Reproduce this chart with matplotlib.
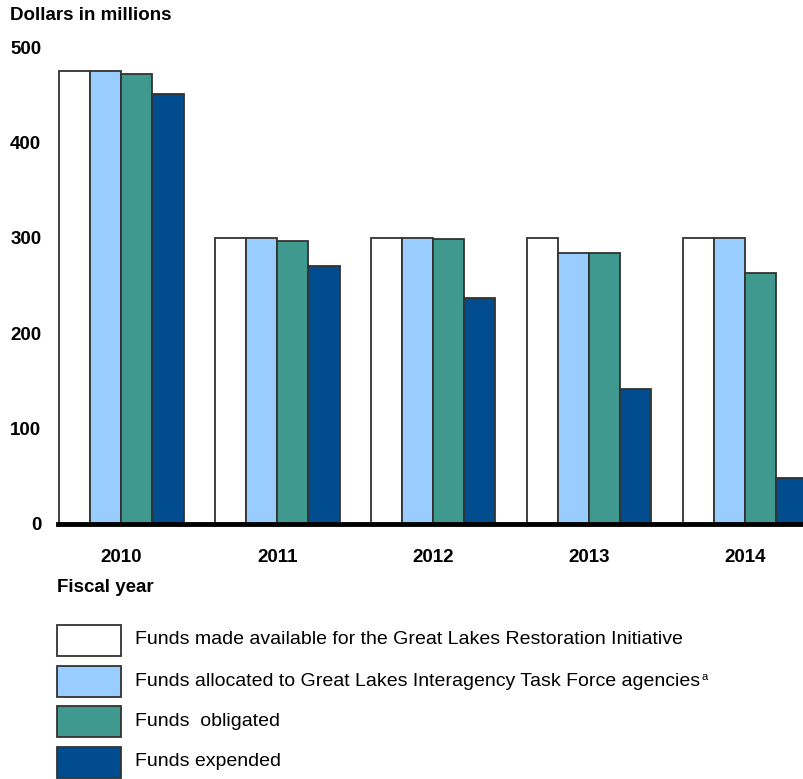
import matplotlib.pyplot as plt
from matplotlib.patches import Rectangle
import numpy as np

plt.rcParams['font.family'] = ['Liberation Sans', 'DejaVu Sans']

years = ['2010', '2011', '2012', '2013', '2014']
available = [475, 300, 300, 300, 300]
allocated = [475, 300, 300, 284, 300]
obligated = [472, 297, 299, 284, 263]
expended = [451, 270, 237, 142, 48]

series = [available, allocated, obligated, expended]
labels = ['Funds made available for the Great Lakes Restoration Initiative',
          'Funds allocated to Great Lakes Interagency Task Force agencies',
          'Funds  obligated',
          'Funds expended']
notes = ['', 'a', '', '']
colors = ['#ffffff', '#99ccff', '#3f998f', '#004c8e']

W, H = 804, 779
fig = plt.figure(figsize=(W / 100, H / 100), dpi=100)
ax = fig.add_axes([58 / W, (H - 524) / H, (W - 58) / W, (524 - 47) / H])

x = np.arange(len(years))
width = 0.2
for i, (vals, col) in enumerate(zip(series, colors)):
    ax.bar(x + (i - 1.5) * width, vals, width, color=col,
           edgecolor='#333333', linewidth=1.3, zorder=2)

ax.set_xlim(-0.405, 4.378)
ax.set_ylim(0, 500)
ax.set_yticks([0, 100, 200, 300, 400, 500])
ax.set_xticks(x)
ax.set_xticklabels(years)
ax.tick_params(axis='both', length=0, labelsize=13.5)
ax.tick_params(axis='y', pad=12)
ax.tick_params(axis='x', pad=18)
for lab in ax.get_xticklabels() + ax.get_yticklabels():
    lab.set_fontweight('bold')

for s in ['top', 'right', 'left']:
    ax.spines[s].set_visible(False)
ax.spines['bottom'].set_linewidth(3.5)
ax.spines['bottom'].set_zorder(3)
ax.spines['bottom'].set_clip_on(False)

fig.text(10 / W, 1 - 16 / H, 'Dollars in millions', fontsize=13.5,
         fontweight='bold', va='center', ha='left')
fig.text(57 / W, 1 - 587 / H, 'Fiscal year', fontsize=13.5,
         fontweight='bold', va='center', ha='left')

# legend
box_tops = [625, 666, 706, 747]
renderer = fig.canvas.get_renderer()
for top, col, lab, note in zip(box_tops, colors, labels, notes):
    fig.add_artist(Rectangle((57 / W, 1 - (top + 31) / H), 64 / W, 31 / H,
                             facecolor=col, edgecolor='#333333', linewidth=1.3,
                             transform=fig.transFigure))
    t = fig.text(135 / W, 1 - (top + 15) / H, lab, fontsize=14,
                 va='center', ha='left')
    if note:
        bb = t.get_window_extent(renderer)
        # superscript sits at cap height, just after the label
        fig.text((bb.x1 + 1) / W, (H - top - 6) / H, note, fontsize=8,
                 va='top', ha='left')

fig.savefig('out.png', dpi=100)
